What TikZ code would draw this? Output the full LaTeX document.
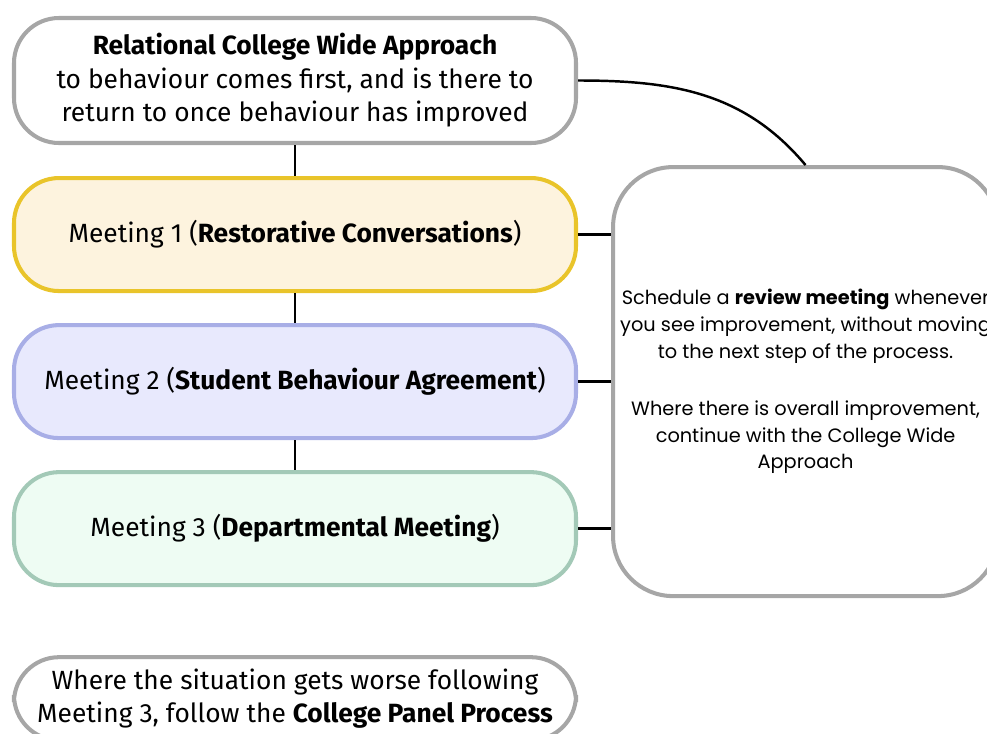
\documentclass[tikz,border=0pt]{standalone}
\usepackage{fontspec}
\setmainfont{Fira Sans}
\newfontfamily\reviewfont{Poppins}
\usepackage{tikz}
\usetikzlibrary{positioning}
\usepackage{xcolor}
\definecolor{grey_line}{RGB}{166,166,166}
\definecolor{yellow_line}{RGB}{233,196,42}
\definecolor{yellow_fill}{RGB}{253,243,222}
\definecolor{blue_line}{RGB}{168,174,230}
\definecolor{blue_fill}{RGB}{232,233,253}
\definecolor{green_line}{RGB}{163,201,183}
\definecolor{green_fill}{RGB}{238,252,243}

\begin{document}
\begin{tikzpicture}[node distance=0.6cm,
                      font=\fontsize{15}{19}\selectfont]
    \tikzstyle{stage}=[rectangle,rounded corners=0.9cm,line width=2.3pt,minimum width=11.24cm,align=center,text=black]
    \tikzstyle{link}=[draw=black,line width=1.4pt]

    \useasboundingbox (0,0) rectangle (19.74,-14.66);
    \clip (0,0) rectangle (19.74,-14.66);

    \node[stage,draw=grey_line,fill=white,minimum height=2.5cm]          (approach) at (5.9,-1.61)       {\textbf{Relational College Wide Approach}\\to behaviour comes first, and is there to\\return to once behaviour has improved};
    \node[stage,draw=yellow_line,fill=yellow_fill,minimum height=2.26cm] (meet1)[below=0.62cm of approach] {Meeting 1 (\textbf{Restorative Conversations})};
    \node[stage,draw=blue_line,fill=blue_fill,minimum height=2.26cm]     (meet2)[below=of meet1]           {Meeting 2 (\textbf{Student Behaviour Agreement})};
    \node[stage,draw=green_line,fill=green_fill,minimum height=2.26cm]   (meet3)[below=of meet2]           {Meeting 3 (\textbf{Departmental Meeting})};
    \node[stage,draw=grey_line,fill=white,minimum height=1.66cm]         (panel)[below=1.36cm of meet3]    {Where the situation gets worse following\\Meeting 3, follow the \textbf{College Panel Process}};
    \node[stage,draw=grey_line,fill=white,minimum width=7.7cm,minimum height=8.58cm,rounded corners=1.2cm,
          font=\reviewfont\fontsize{11}{15.3}\selectfont]                (review)[right=0.66cm of meet2]   {Schedule a \textbf{review meeting} whenever\\you see improvement, without moving\\to the next step of the process.\\[17pt]Where there is overall improvement,\\continue with the College Wide\\Approach};

    % \draw (meet3) -- (panel);
    \path[link] (approach) -- (meet1)
        (meet1) -- (meet2)
        (meet2) -- (meet3)

        (meet1) -- (meet1 -| review.west)
        (meet2) -- (review)
        (meet3) -- (meet3 -| review.west);
    \draw[link] (approach.east) to[out=0,in=130] (review.north);

\end{tikzpicture}
\end{document}
